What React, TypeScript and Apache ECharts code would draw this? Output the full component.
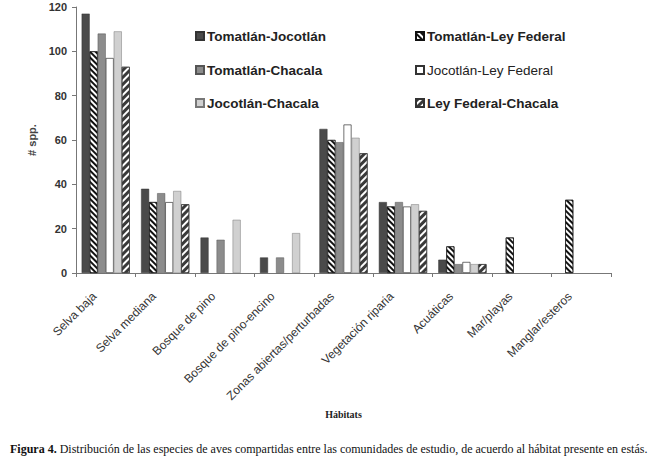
import React, { useEffect, useRef } from "react";
import * as echarts from "echarts";

const categories = [
  "Selva baja",
  "Selva mediana",
  "Bosque de pino",
  "Bosque de pino-encino",
  "Zonas abiertas/perturbadas",
  "Vegetación riparia",
  "Acuáticas",
  "Mar/playas",
  "Manglar/esteros",
];

const tomatlanJocotlan = [117, 38, 16, 7, 65, 32, 6, 0, 0];
const tomatlanLeyFederal = [100, 32, 0, 0, 60, 30, 12, 16, 33];
const tomatlanChacala = [108, 36, 15, 7, 59, 32, 4, 0, 0];
const jocotlanLeyFederal = [97, 32, 0, 0, 67, 30, 5, 0, 0];
const jocotlanChacala = [109, 37, 24, 18, 61, 31, 4, 0, 0];
const leyFederalChacala = [93, 31, 0, 0, 54, 28, 4, 0, 0];

const yTicks = [0, 20, 40, 60, 80, 100, 120];

const seriesNames = [
  "Tomatlán-Jocotlán",
  "Tomatlán-Ley Federal",
  "Tomatlán-Chacala",
  "Jocotlán-Ley Federal",
  "Jocotlán-Chacala",
  "Ley Federal-Chacala",
];

const SANS = "'Liberation Sans', Arial, sans-serif";
const SERIF = "'Liberation Serif', 'Times New Roman', serif";

export default function App() {
  const ref = useRef<HTMLDivElement>(null);
  useEffect(() => {
    if (!ref.current) return;
    const chart = echarts.init(ref.current, null, { renderer: "svg" });
    const values = [
      tomatlanJocotlan,
      tomatlanLeyFederal,
      tomatlanChacala,
      jocotlanLeyFederal,
      jocotlanChacala,
      leyFederalChacala,
    ];
    const styles: any[] = [
      { color: "#4a4a4a", borderColor: "#333", borderWidth: 0.5 },
      {
        color: "#ffffff",
        borderColor: "#111",
        borderWidth: 0.6,
        decal: {
          symbol: "rect",
          symbolSize: 1,
          color: "#111",
          dashArrayX: [1, 0],
          dashArrayY: [2, 2],
          rotation: Math.PI / 4,
        },
      },
      { color: "#8c8c8c", borderColor: "#555", borderWidth: 0.5 },
      { color: "#ffffff", borderColor: "#333", borderWidth: 0.7 },
      { color: "#d0d0d0", borderColor: "#777", borderWidth: 0.5 },
      {
        color: "#ffffff",
        borderColor: "#333",
        borderWidth: 0.6,
        decal: {
          symbol: "rect",
          symbolSize: 1,
          color: "#3a3a3a",
          dashArrayX: [1, 0],
          dashArrayY: [3, 1.5],
          rotation: -Math.PI / 4,
        },
      },
    ];
    const legendPos = [
      [190, 24],
      [410, 24],
      [190, 58],
      [410, 58],
      [190, 91],
      [410, 91],
    ];
    const legendWeights = ["bold", "bold", "bold", "normal", "bold", "bold"];
    chart.setOption({
      animation: false,
      backgroundColor: "#ffffff",
      grid: { left: 76, right: 44, top: 7, bottom: 187, containLabel: false },
      legend: seriesNames.map((n, i) => ({
        data: [n],
        left: legendPos[i][0],
        top: legendPos[i][1],
        itemWidth: 8,
        itemHeight: 8,
        itemGap: 3,
        icon: "rect",
        textStyle: {
          fontFamily: SANS,
          fontSize: 13.5,
          fontWeight: legendWeights[i],
          color: "#222",
          padding: [0, 0, 0, -2],
        },
      })),
      xAxis: {
        type: "category",
        data: categories,
        axisLine: { lineStyle: { color: "#777", width: 1 } },
        axisTick: { show: true, alignWithLabel: false, length: 4, lineStyle: { color: "#777" } },
        axisLabel: {
          rotate: 45,
          interval: 0,
          margin: 10,
          padding: [0, 16, 0, 0],
          fontFamily: SANS,
          fontSize: 12,
          color: "#333",
        },
        name: "Hábitats",
        nameLocation: "middle",
        nameGap: 136,
        nameTextStyle: {
          fontFamily: SERIF,
          fontWeight: "bold",
          fontSize: 10,
          color: "#222",
        },
      },
      yAxis: {
        type: "value",
        min: 0,
        max: 120,
        interval: 20,
        splitLine: { show: false },
        axisLine: { show: true, lineStyle: { color: "#777", width: 1 } },
        axisTick: { show: true, length: 4, lineStyle: { color: "#777" } },
        axisLabel: {
          margin: 9,
          fontFamily: SANS,
          fontSize: 11,
          fontWeight: "bold",
          color: "#333",
          formatter: (v: number) => (yTicks.includes(v) ? String(v) : ""),
        },
        name: "# spp.",
        nameLocation: "middle",
        nameGap: 37,
        nameTextStyle: {
          fontFamily: SANS,
          fontSize: 11,
          fontWeight: "bold",
          color: "#444",
        },
      },
      series: seriesNames.map((n, i) => ({
        name: n,
        type: "bar",
        data: values[i].map((v) => (v === 0 ? "-" : v)),
        barGap: "0%",
        barCategoryGap: "19%",
        itemStyle: styles[i],
      })),
      graphic: [
        {
          type: "text",
          left: 10,
          top: 443,
          style: {
            text: "{b|Figura 4.} Distribución de las especies de aves compartidas entre las comunidades de estudio, de acuerdo al hábitat presente en estás.",
            fontFamily: SERIF,
            fontSize: 12,
            fill: "#111",
            rich: {
              b: {
                fontFamily: SERIF,
                fontSize: 12,
                fontWeight: "bold",
                fill: "#111",
              },
            },
          },
        },
      ],
    });
    return () => chart.dispose();
  }, []);
  return <div ref={ref} style={{ width: 655, height: 460, position: "absolute", left: 0, top: 0 }} />;
}
